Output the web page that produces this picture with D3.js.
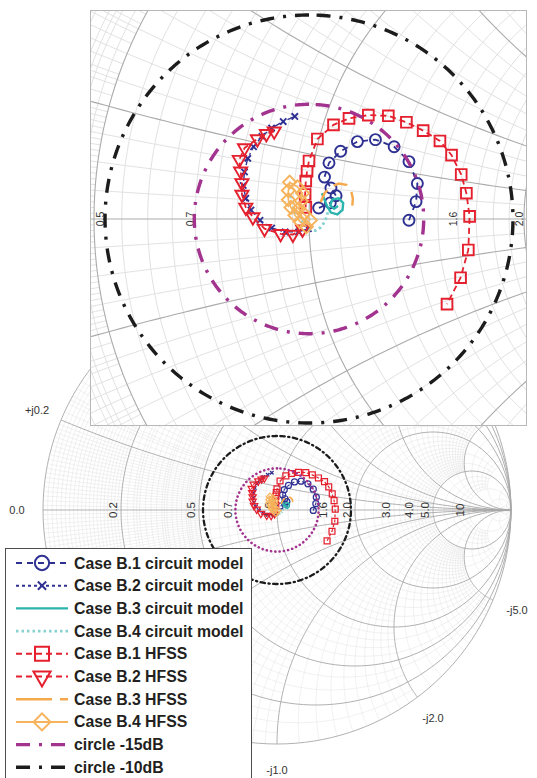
<!DOCTYPE html>
<html>
<head>
<meta charset="utf-8">
<script src="https://cdn.jsdelivr.net/npm/d3@7"></script>
<style>
body{margin:0;background:#fff}
svg{display:block;font-family:"Liberation Sans",Arial,sans-serif}
</style>
</head>
<body>
<svg id="chart" width="537" height="778"></svg>
<script>
// reflection coefficient [re, im]
var b1Circuit = [[0.155,-0.002],[0.166,0.027],[0.168,0.055],[0.155,0.089],[0.132,0.112],[0.103,0.123],[0.075,0.120],[0.049,0.105],[0.031,0.087],[0.024,0.065],[0.034,0.048],[0.042,0.036],[0.033,0.025],[0.015,0.017]];
var b2Circuit = [[-0.022,0.159],[-0.040,0.151],[-0.058,0.141],[-0.073,0.128],[-0.086,0.112],[-0.095,0.094],[-0.100,0.073],[-0.102,0.052],[-0.098,0.032],[-0.090,0.014],[-0.076,-0.002],[-0.058,-0.014],[-0.037,-0.020],[-0.016,-0.020],[-0.001,-0.015]];
var b3Circuit = [[0.020,0.040],[0.024,0.030],[0.028,0.020],[0.034,0.010],[0.044,0.007],[0.052,0.014],[0.053,0.025],[0.046,0.032],[0.036,0.030],[0.033,0.021],[0.039,0.016],[0.045,0.020]];
var b4Circuit = [[-0.028,0.036],[-0.026,0.022],[-0.020,0.008],[-0.010,-0.006],[0.000,-0.015],[0.010,-0.018],[0.018,-0.013],[0.024,-0.005],[0.028,0.005],[0.030,0.015]];
var b1Hfss = [[-0.005,0.018],[-0.006,0.038],[-0.005,0.059],[-0.003,0.074],[0.000,0.090],[0.013,0.124],[0.038,0.146],[0.062,0.156],[0.092,0.161],[0.123,0.160],[0.151,0.150],[0.177,0.137],[0.203,0.121],[0.221,0.099],[0.236,0.069],[0.244,0.040],[0.249,0.004],[0.247,-0.048],[0.235,-0.091],[0.214,-0.132]];
var b2Hfss = [[-0.054,0.136],[-0.066,0.132],[-0.080,0.124],[-0.100,0.110],[-0.108,0.092],[-0.106,0.074],[-0.104,0.056],[-0.104,0.038],[-0.098,0.018],[-0.087,0.003],[-0.069,-0.015],[-0.044,-0.023],[-0.025,-0.024],[-0.010,-0.016]];
var b3Hfss = [[0.018,0.026],[0.024,0.040],[0.034,0.050],[0.046,0.055],[0.058,0.053],[0.065,0.045],[0.068,0.032],[0.067,0.018]];
var b4Hfss = [[0.002,-0.002],[-0.008,0.008],[-0.016,0.016],[-0.012,0.028],[-0.010,0.040],[-0.018,0.050],[-0.030,0.057],[-0.032,0.044],[-0.032,0.030],[-0.028,0.018],[-0.022,0.006],[-0.014,-0.004],[-0.004,-0.012]];
var circleDb = [-15, -10];

var seriesNames = ["Case B.1 circuit model","Case B.2 circuit model","Case B.3 circuit model","Case B.4 circuit model",
  "Case B.1 HFSS","Case B.2 HFSS","Case B.3 HFSS","Case B.4 HFSS","circle -15dB","circle -10dB"];

var rLabels = [0.2, 0.5, 0.7, 1.0, 1.6, 2.0, 3.0, 4.0, 5.0, 10];
var insetRLabels = [0.5, 0.7, 1.6, 2.0];
var xLabels = [0, 0.2, -5, -2, -1];
var xLabelText = ["0.0", "+j0.2", "-j5.0", "-j2.0", "-j1.0"];

// smith grid: [step, upto, extent]
var gridLevels = [[1,10,10],[0.2,5,5],[0.1,2,2],[0.05,1,1],[0.02,0.5,0.5],[0.01,0.2,0.5]];
var gridMajor = [0.2, 0.5, 1, 2, 5];
var gridExtra = [10, 20, 50];

var svg = d3.select("#chart");

function gam(r, x){
  var d = (r+1)*(r+1) + x*x;
  return [(r*r + x*x - 1)/d, 2*x/d];
}
function rLine(r, X){
  var a = Math.atan(X), n = 160;
  return d3.range(n+1).map(function(i){ return gam(r, Math.tan(-a + 2*a*i/n)); });
}
function xLine(x, Rm){
  var a = Math.atan(Rm), n = 120;
  return d3.range(n+1).map(function(i){ return gam(Math.tan(a*i/n), x); });
}
function gridValues(){
  var m = new Map();
  gridMajor.forEach(function(v){ m.set(v, {v:v, ext:Infinity, major:true}); });
  gridExtra.forEach(function(v){ m.set(v, {v:v, ext:Infinity, major:false}); });
  gridLevels.forEach(function(L){
    for(var i=1; i*L[0] <= L[1]+1e-9; i++){
      var v = +(i*L[0]).toFixed(2);
      if(!m.has(v)) m.set(v, {v:v, ext:L[2], major:false});
    }
  });
  return Array.from(m.values());
}

var X_SYM = {draw:function(ctx, size){ var r = Math.sqrt(size)/2;
  ctx.moveTo(-r,-r); ctx.lineTo(r,r); ctx.moveTo(r,-r); ctx.lineTo(-r,r); }};

var series = [
  {data:b1Circuit, color:"#2e3192", dash:"6,5", w:1.8, sym:d3.symbolCircle, size:95},
  {data:b2Circuit, color:"#2e3192", dash:"8,3,2,3", w:1.4, sym:X_SYM, size:40, leg:"3,3,3,3"},
  {data:b3Circuit, color:"#2bb3ad", dash:null, w:2.4},
  {data:b4Circuit, color:"#86d2d0", dash:"2.5,3", w:2.8},
  {data:b1Hfss, color:"#e5202e", dash:"6,4", w:1.8, sym:d3.symbolSquare, size:115},
  {data:b2Hfss, color:"#e5202e", dash:"6,4", w:1.8, sym:d3.symbolTriangle, size:75, rot:180},
  {data:b3Hfss, color:"#f6a94c", dash:"14,8", w:2.4, leg:"36,8"},
  {data:b4Hfss, color:"#f6b35c", dash:null, w:1.6, sym:d3.symbolSquare, size:85, rot:45}
];
series.forEach(function(s, i){ s.name = seriesNames[i]; });
var rings = [
  {db:circleDb[0], color:"#a2338e", dash:"14,9,3,9", w:3.4, lowDash:"0.1,4.2", lowW:2.6, name:seriesNames[8]},
  {db:circleDb[1], color:"#1c1c1c", dash:"14,9,3,9", w:3.4, lowDash:"4.5,3.5,1.2,3.5", lowW:2.3, name:seriesNames[9]}
];

function drawSmith(g, cx, cy, R, k, opt){
  var sx = d3.scaleLinear().domain([-1,1]).range([cx-R, cx+R]);
  var sy = d3.scaleLinear().domain([-1,1]).range([cy+R, cy-R]);
  var line = d3.line().x(function(d){return sx(d[0]);}).y(function(d){return sy(d[1]);});

  var minor = [], major = [];
  gridValues().forEach(function(o){
    var t = o.major ? major : minor;
    t.push(rLine(o.v, o.ext)); t.push(xLine(o.v, o.ext)); t.push(xLine(-o.v, o.ext));
  });
  major.push(rLine(0, Infinity)); major.push(xLine(0, Infinity));
  var gg = g.append("g").attr("fill","none");
  gg.selectAll(null).data(minor).join("path").attr("d", line)
    .attr("stroke", opt.minorColor).attr("stroke-width", opt.minorW);
  gg.selectAll(null).data(major).join("path").attr("d", line)
    .attr("stroke", opt.majorColor).attr("stroke-width", opt.majorW);

  // resistance labels
  var labs = g.append("g").attr("font-size", opt.labSize).attr("fill", "#333").attr("text-anchor","middle");
  labs.selectAll(null).data(opt.rLabels).join("text")
    .attr("transform", function(r){
      var x = Math.max(opt.labMin, Math.min(opt.labMax, sx((r-1)/(r+1)) - opt.labOff));
      return "translate(" + x + "," + cy + ") rotate(-90)";
    })
    .text(function(r){ return r === 10 ? "10" : r.toFixed(1); });

  if(opt.xLabels){
    labs.selectAll(null).data(xLabels).join("text")
      .attr("x", function(x){ var p = gam(0, x); return cx + (R+26)*p[0]; })
      .attr("y", function(x){ var p = gam(0, x); return cy - (R+26)*p[1] + 4; })
      .attr("font-size", 11)
      .text(function(d, i){ return xLabelText[i]; });
  }

  // data series
  series.forEach(function(s){
    var sg = g.append("g");
    sg.append("path").datum(s.data).attr("d", line).attr("fill","none")
      .attr("stroke", s.color).attr("stroke-width", s.w*opt.lw)
      .attr("stroke-dasharray", s.dash ? s.dash.split(",").map(function(v){return v*opt.dk;}).join(",") : null);
    if(s.sym){
      sg.selectAll(null).data(s.data).join("path")
        .attr("transform", function(d){ return "translate(" + sx(d[0]) + "," + sy(d[1]) + ") rotate(" + (s.rot||0) + ")"; })
        .attr("d", d3.symbol(s.sym, s.size*k*k))
        .attr("fill","none").attr("stroke", s.color).attr("stroke-width", 1.9*opt.lw);
    }
  });

  rings.forEach(function(c){
    var m = Math.pow(10, c.db/20);
    var pts = d3.range(0, 361, 1).map(function(a){ var t = (a+90)*Math.PI/180; return [m*Math.cos(t), m*Math.sin(t)]; });
    g.append("path").datum(pts).attr("d", line).attr("fill","none")
      .attr("stroke", c.color).attr("stroke-width", opt.low ? c.lowW : c.w)
      .attr("stroke-linecap", opt.low ? "round" : "butt")
      .attr("stroke-dasharray", opt.low ? c.lowDash : c.dash);
  });
}

// main chart
var low = svg.append("g");
drawSmith(low, 277, 510, 234, 0.55, {minorColor:"#dcdcdc", minorW:0.4, majorColor:"#a8a8a8", majorW:0.9,
  rLabels:rLabels, labSize:11.5, labOff:4, labMin:0, labMax:537, xLabels:true, lw:0.65, dk:0.5, low:true});

// zoomed inset
var box = {x:90, y:10, w:437, h:416};
svg.append("clipPath").attr("id","insetClip").append("rect")
  .attr("x", box.x).attr("y", box.y).attr("width", box.w).attr("height", box.h);
svg.append("rect").attr("x", box.x).attr("y", box.y).attr("width", box.w).attr("height", box.h).attr("fill","#fff");
var ins = svg.append("g").attr("clip-path","url(#insetClip)");
drawSmith(ins, 309, 219, 645, 1, {minorColor:"#dedede", minorW:0.9, majorColor:"#ababab", majorW:1.1,
  rLabels:insetRLabels, labSize:10.5, labOff:1, labMin:104, labMax:524, xLabels:false, lw:1, dk:1, low:false});
svg.append("rect").attr("x", box.x+0.5).attr("y", box.y+0.5).attr("width", box.w-1).attr("height", box.h-1)
  .attr("fill","none").attr("stroke","#b8b8b8");

// legend
var leg = svg.append("g");
leg.append("rect").attr("x",5.5).attr("y",548.5).attr("width",246).attr("height",240)
  .attr("fill","#fff").attr("stroke","#4d4d4d");
var legItems = series.concat(rings);
var rows = leg.selectAll(null).data(legItems).join("g")
  .attr("transform", function(d, i){ return "translate(0," + (563 + i*22.7) + ")"; });
rows.append("line").attr("x1",16).attr("x2",68).attr("y1",0).attr("y2",0)
  .attr("stroke", function(d){ return d.color; })
  .attr("stroke-width", function(d){ return d.db ? 3.4 : Math.max(d.w, 2); })
  .attr("stroke-dasharray", function(d){ return d.leg || d.dash; });
rows.filter(function(d){ return d.sym; }).append("path")
  .attr("transform", function(d){ return "translate(42,0) rotate(" + (d.rot||0) + ")"; })
  .attr("d", function(d){ return d3.symbol(d.sym, d.size*1.7)(); })
  .attr("fill","none").attr("stroke", function(d){ return d.color; }).attr("stroke-width", 2);
rows.append("text").attr("x",74).attr("y",5.5).attr("font-size",15.8).attr("font-weight","bold")
  .attr("fill","#231f20").text(function(d){ return d.name; });
</script>
</body>
</html>
